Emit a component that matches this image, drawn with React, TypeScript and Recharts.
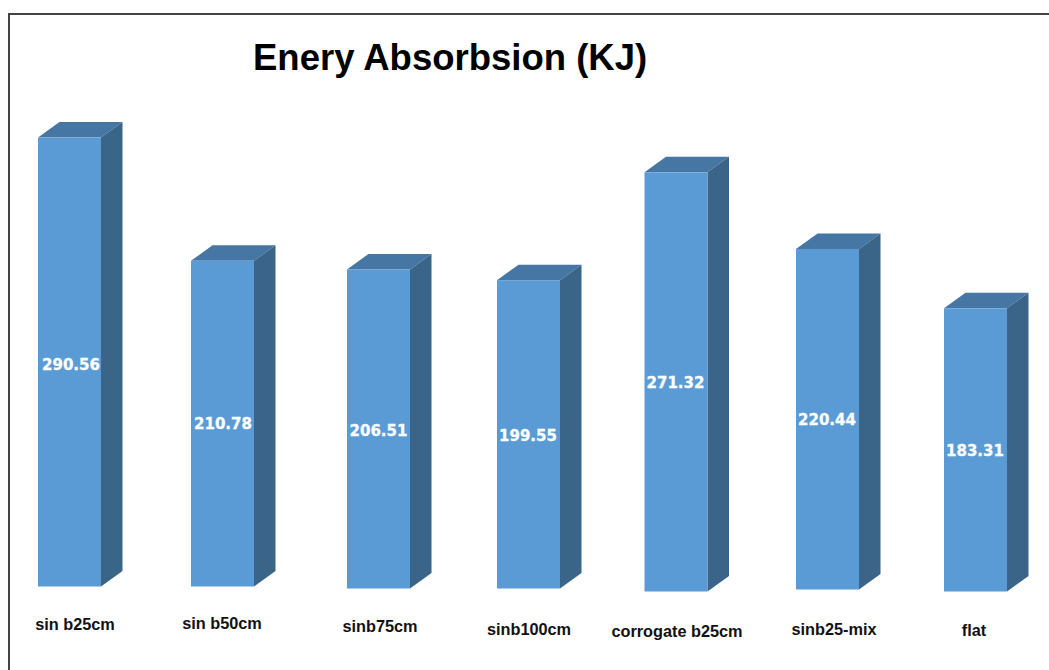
import React from "react";
import { BarChart, Bar, XAxis, YAxis, LabelList } from "recharts";

const categories = ["sin b25cm", "sin b50cm", "sinb75cm", "sinb100cm", "corrogate b25cm", "sinb25-mix", "flat"];
const energyValues = [290.56, 210.78, 206.51, 199.55, 271.32, 220.44, 183.31];
const rows = categories.map((name, i) => ({ name, energy: energyValues[i] }));

// Hand-placed look of the original: small per-category shifts (drawing style only)
const barShiftX = [0, 2, 7, 6, 2.5, 3, 0];
const barShiftY = [-2, -2, 0, 0, 3, 1, 3];
const labelShiftX = [1.5, 0.5, 0, -0.5, -0.5, -0.5, -0.5];
const labelShiftY = [2.5, 0, 2, 2, 1, 1, 1];
const tickShiftX = [5.5, 1.5, 8.5, 6.5, 3.5, 9.5, -1.5];
const tickY = [624, 623, 626, 629, 631, 629, 630];

const FRONT = "#5b9bd5";
const TOP = "#4676a3";
const SIDE = "#3a6488";
const DX = 21.5;
const DY = 15.5;

function Box3D(props: any) {
  const { x, y, width, height, index } = props;
  const l = x + barShiftX[index];
  const t = y + barShiftY[index];
  const r = l + width;
  const b = t + height;
  return (
    <g>
      <polygon points={`${l},${t} ${l + DX},${t - DY} ${r + DX},${t - DY} ${r},${t}`} fill={TOP} />
      <polygon points={`${r},${t} ${r + DX},${t - DY} ${r + DX},${b - DY} ${r},${b}`} fill={SIDE} />
      <rect x={l} y={t} width={width} height={height} fill={FRONT} />
    </g>
  );
}

function ValueLabel(props: any) {
  const { x, y, width, height, index, value } = props;
  return (
    <text
      x={x + width / 2 + barShiftX[index] + labelShiftX[index]}
      y={y + height / 2 + barShiftY[index] + labelShiftY[index]}
      textAnchor="middle"
      dominantBaseline="central"
      fill="#ffffff"
      stroke="#ffffff"
      strokeWidth={0.3}
      fontFamily="'DejaVu Sans', sans-serif"
      fontWeight={700}
      fontSize={15}
    >
      {Number(value).toFixed(2)}
    </text>
  );
}

function CategoryTick(props: any) {
  const { x, payload, index } = props;
  const i = payload?.index ?? index;
  return (
    <text
      x={x + tickShiftX[i]}
      y={tickY[i]}
      textAnchor="middle"
      dominantBaseline="central"
      fill="#111111"
      fontFamily="'Liberation Sans', Arial, sans-serif"
      fontWeight={700}
      fontSize={16.3}
    >
      {payload.value}
    </text>
  );
}

export default function App() {
  return (
    <div style={{ position: "absolute", left: 0, top: 0, width: 1049, height: 670, background: "#fff", overflow: "hidden" }}>
      <div style={{ position: "absolute", left: 8, top: 13, right: -2, bottom: -2, borderLeft: "2px solid #444", borderTop: "2px solid #444" }} />
      <div
        style={{
          position: "absolute",
          left: 253,
          top: 37,
          fontFamily: "'Liberation Sans', Arial, sans-serif",
          fontWeight: 700,
          fontSize: 36.5,
          lineHeight: "42px",
          color: "#000",
          whiteSpace: "nowrap",
        }}
      >
        Enery Absorbsion (KJ)
      </div>
      <div style={{ position: "absolute", left: 0, top: 0 }}>
        <BarChart
          width={1049}
          height={670}
          data={rows}
          margin={{ top: 125, right: -2, bottom: 0, left: -6 }}
          barCategoryGap={0}
          style={{ background: "transparent" }}
        >
          <XAxis dataKey="name" axisLine={false} tickLine={false} interval={0} height={81.5} tick={<CategoryTick />} />
          <YAxis hide domain={[0, 300]} width={0} />
          <Bar dataKey="energy" barSize={63} shape={<Box3D />} isAnimationActive={false}>
            <LabelList dataKey="energy" content={<ValueLabel />} />
          </Bar>
        </BarChart>
      </div>
    </div>
  );
}
